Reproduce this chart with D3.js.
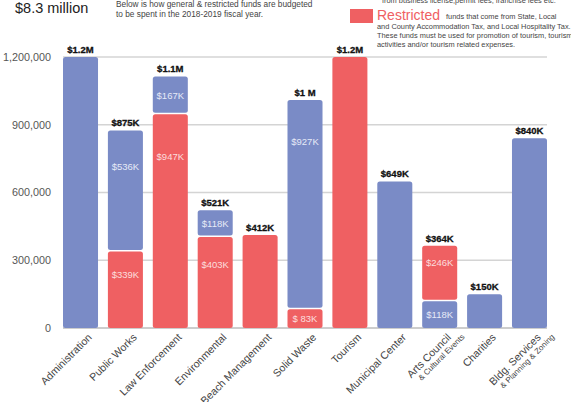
<!DOCTYPE html>
<html lang="en">
<head>
  <meta charset="UTF-8">
  <title>2018-2019 Budget</title>
  <style>
    body { margin: 0; background: #fff; }
    text { font-family: "Liberation Sans", Arial, sans-serif; }
  </style>
</head>
<body>
  <svg id="svg" width="571" height="402"></svg>

  <script src="https://d3js.org/d3.v7.min.js"></script>
  <script>
    // ------ DATA ------------------------
    const categories = ['Administration', 'Public Works', 'Law Enforcement', 'Environmental',
      'Beach Management', 'Solid Waste', 'Tourism', 'Municipal Center', 'Arts Council',
      'Charities', 'Bldg. Services']
    const subLabels = ['', '', '', '', '', '', '', '', '& Cultural Events', '', '& Planning & Zoning']
    const generalFunds = [1200000, 536000, 167000, 118000, 0, 927000, 0, 649000, 118000, 150000, 840000]
    const restrictedFunds = [0, 339000, 947000, 403000, 412000, 83000, 1200000, 0, 246000, 0, 0]
    const totalLabels = ['$1.2M', '$875K', '$1.1M', '$521K', '$412K', '$1 M', '$1.2M', '$649K', '$364K', '$150K', '$840K']
    const generalLabels = ['', '$536K', '$167K', '$118K', '', '$927K', '', '', '$118K', '', '']
    const restrictedLabels = ['', '$339K', '$947K', '$403K', '', '$ 83K', '', '', '$246K', '', '']
    // general money sits under restricted money only for these
    const generalFirst = ['Arts Council']
    const yTicks = [0, 300000, 600000, 900000, 1200000]

    // CONSTANTS
    const blue = '#7a8bc6'
    const red = '#ef6062'
    const svg = d3.select('#svg')

    const x = d3.scaleBand()
      .domain(categories)
      .range([63, 547])
      .paddingInner(0.22)
      .paddingOuter(0)

    const y = d3.scaleLinear()
      .domain([0, 1200000])
      .range([328, 57])

    // grid
    svg.append('g')
      .selectAll('line')
      .data(yTicks)
      .join('line')
      .attr('x1', 63)
      .attr('x2', 547)
      .attr('y1', d => y(d))
      .attr('y2', d => y(d))
      .attr('stroke', d => d === 0 ? '#bdbdbd' : '#d4d4d4')
      .attr('stroke-width', 1.3)

    // y axis labels
    const yAxis = svg.append('g')
      .attr('transform', 'translate(54,0)')
      .call(d3.axisLeft(y).tickValues(yTicks).tickSize(0).tickFormat(d3.format(',')))
    yAxis.select('.domain').remove()
    yAxis.selectAll('text')
      .attr('font-size', 10.8)
      .attr('fill', '#555')
      .attr('font-family', '"Liberation Sans", Arial, sans-serif')

    // build segments
    const segments = []
    categories.forEach((c, i) => {
      const parts = [
        { kind: 'general', value: generalFunds[i], label: generalLabels[i], color: blue },
        { kind: 'restricted', value: restrictedFunds[i], label: restrictedLabels[i], color: red }
      ]
      if (!generalFirst.includes(c)) parts.reverse()
      let base = 0
      parts.forEach(p => {
        if (p.value <= 0) return
        segments.push({ cat: c, y0: base, y1: base + p.value, bottom: base === 0, ...p })
        base += p.value
      })
    })

    const seg = svg.append('g')
      .selectAll('g')
      .data(segments)
      .join('g')

    seg.append('rect')
      .attr('x', d => x(d.cat))
      .attr('width', x.bandwidth())
      .attr('y', d => y(d.y1))
      .attr('height', d => y(d.y0) - y(d.y1) - (d.bottom ? 0 : 1.5))
      .attr('rx', 2.5)
      .attr('fill', d => d.color)

    seg.filter(d => d.label)
      .append('text')
      .attr('x', d => x(d.cat) + x.bandwidth() / 2)
      .attr('y', d => {
        const h = y(d.y0) - y(d.y1)
        const off = h < 50 ? h / 2 : Math.min(h * 0.3, 42)
        return y(d.y1) + off + 3.5
      })
      .attr('text-anchor', 'middle')
      .attr('font-size', 9.5)
      .attr('fill', d => d.kind === 'general' ? '#e6eaf7' : '#fcdede')
      .text(d => d.label)

    // totals
    svg.append('g')
      .selectAll('text')
      .data(categories)
      .join('text')
      .attr('x', d => x(d) + x.bandwidth() / 2)
      .attr('y', (d, i) => y(generalFunds[i] + restrictedFunds[i]) - 4)
      .attr('text-anchor', 'middle')
      .attr('font-size', 9.5)
      .attr('font-weight', 'bold')
      .attr('fill', '#111')
      .attr('stroke', '#111')
      .attr('stroke-width', 0.3)
      .text((d, i) => totalLabels[i])

    // x labels
    const xl = svg.append('g')
      .selectAll('g')
      .data(categories)
      .join('g')
      .attr('transform', d => `translate(${x(d) + x.bandwidth() / 2 + 12},338) rotate(-45)`)

    xl.append('text')
      .attr('text-anchor', 'end')
      .attr('font-size', 10.6)
      .attr('fill', '#444')
      .text(d => d)

    xl.append('text')
      .attr('text-anchor', 'end')
      .attr('x', 10)
      .attr('y', 9)
      .attr('font-size', 8)
      .attr('fill', '#444')
      .text((d, i) => subLabels[i])

    // header
    svg.append('text')
      .attr('x', 15).attr('y', 13)
      .attr('font-size', 14.5)
      .attr('fill', '#222')
      .text('$8.3 million')

    const sub = svg.append('text')
      .attr('x', 116).attr('y', 7)
      .attr('font-size', 8.3)
      .attr('fill', '#444')
    sub.append('tspan').attr('x', 116).attr('dy', 0)
      .text('Below is how general & restricted funds are budgeted')
    sub.append('tspan').attr('x', 116).attr('dy', 10)
      .text('to be spent in the 2018-2019 fiscal year.')

    // legend (restricted)
    svg.append('rect')
      .attr('x', 350).attr('y', 9)
      .attr('width', 23).attr('height', 14)
      .attr('fill', red)

    svg.append('text')
      .attr('x', 382).attr('y', 3)
      .attr('font-size', 7.4)
      .attr('fill', '#444')
      .text('from business license,permit fees, franchise fees etc.')

    svg.append('text')
      .attr('x', 377).attr('y', 20)
      .attr('font-size', 14)
      .attr('fill', red)
      .text('Restricted')

    svg.append('text')
      .attr('x', 446).attr('y', 19)
      .attr('font-size', 7.4)
      .attr('fill', '#444')
      .text('funds that come from State, Local')

    const legendLines = ['and County Accommodation Tax, and Local Hospitality Tax.',
      'These funds must be used for promotion of tourism, tourism',
      'activities and/or tourism related expenses.']
    svg.append('g')
      .selectAll('text')
      .data(legendLines)
      .join('text')
      .attr('x', 377)
      .attr('y', (d, i) => 29 + i * 9)
      .attr('font-size', 7.4)
      .attr('fill', '#444')
      .text(d => d)
  </script>
</body>
</html>
